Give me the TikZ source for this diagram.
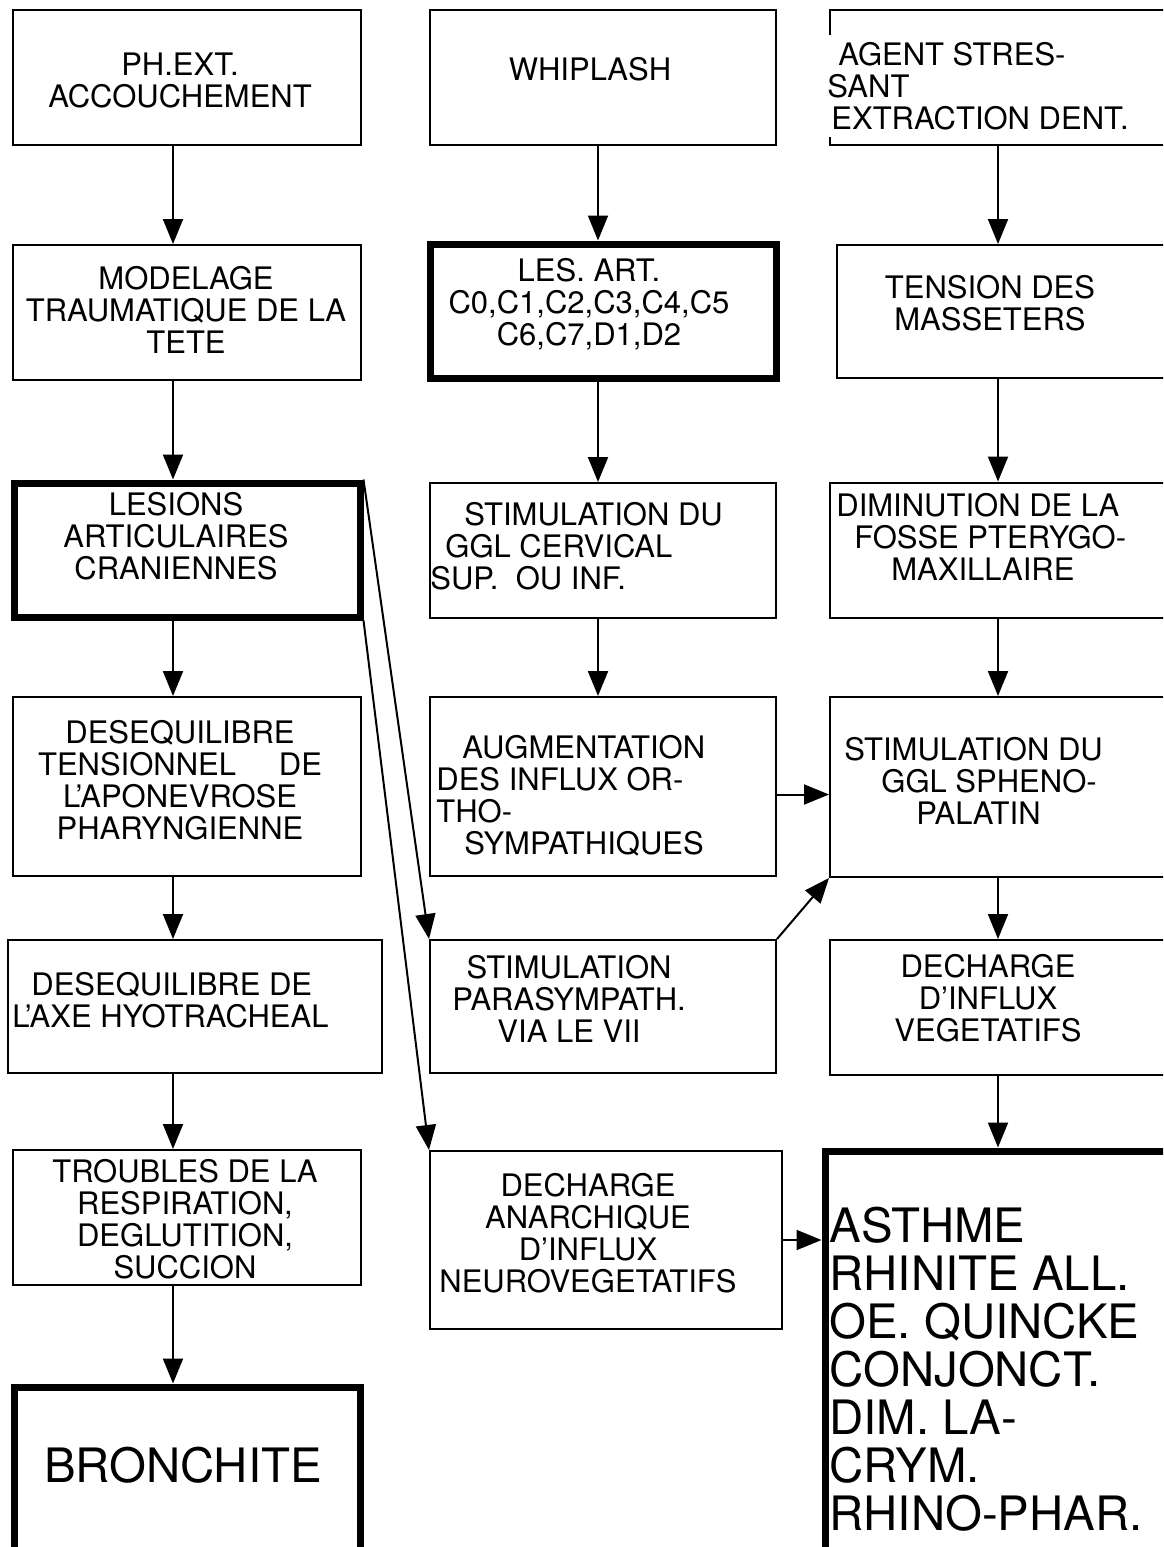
\documentclass[tikz,border=0pt]{standalone}
\usepackage{fontspec}
\setmainfont{TeX Gyre Heros}
\usetikzlibrary{arrows.meta}

\begin{document}
\begin{tikzpicture}[
  x=0.5pt, y=-0.5pt,
  box/.style={draw, line width=1pt, inner sep=0pt, minimum width=174pt, minimum height=67.5pt},
  heavy/.style={box, line width=3.5pt},
  txt/.style={inner sep=0pt, align=center, anchor=north, font=\fontsize{15.5pt}{16pt}\selectfont},
  ltxt/.style={txt, align=left, anchor=north west},
  big/.style={font=\fontsize{23.7pt}{24pt}\selectfont},
  arrow/.style={-{Triangle[length=12.5pt,width=10pt]}, line width=1pt}
]
\useasboundingbox (0,0) rectangle (1163,1547);
\clip (0,0) rectangle (1163,1547);
\fill[white] (0,0) rectangle (1163,1547);

% left column
\node[box] (l1) at (187,77.5) {};
\node[box] (l2) at (187,312.5) {};
\node[heavy, minimum width=173pt, minimum height=67pt] (l3) at (187,550) {};
\node[box, minimum height=89.5pt] (l4) at (187,786.5) {};
\node[box, minimum width=187pt, minimum height=66.5pt] (l5) at (195,1006.5) {};
\node[box] (l6) at (187,1217.5) {};
\node[heavy, minimum width=173pt, minimum height=106.5pt] (l7) at (187,1493.5) {};

\node[txt] (l1t) at (180,53) {PH.EXT.\\ACCOUCHEMENT};
\node[txt] (l2t) at (186,266) {MODELAGE\\TRAUMATIQUE DE LA\\TETE};
\node[txt] (l3t) at (176,492) {LESIONS\\ARTICULAIRES\\CRANIENNES};
\node[txt] (l4t) at (180,720) {DESEQUILIBRE\\TENSIONNEL\hspace{1.1em} DE\\L'APONEVROSE\\PHARYNGIENNE};
\node[ltxt] (l5t) at (12,972) {\hspace{9.5pt}DESEQUILIBRE DE\\L'AXE HYOTRACHEAL};
\node[txt] (l6t) at (185,1159) {TROUBLES DE LA\\RESPIRATION,\\DEGLUTITION,\\SUCCION};
\node[txt, big] (l7t) at (183,1447) {BRONCHITE};

% middle column
\node[box, minimum width=173pt] (m1) at (603,77.5) {};
\node[heavy, minimum width=173pt, minimum height=67pt] (m2) at (603,311) {};
\node[box, minimum width=173pt] (m3) at (603,550.5) {};
\node[box, minimum width=173pt, minimum height=89.5pt] (m4) at (603,786.5) {};
\node[box, minimum width=173pt, minimum height=66.5pt] (m5) at (603,1006.5) {};
\node[box, minimum width=176pt, minimum height=89pt] (m6) at (606,1240) {};

\node[txt] (m1t) at (590,57) {WHIPLASH};
\node[txt] (m2t) at (589,258) {LES. ART.\\C0,C1,C2,C3,C4,C5\\C6,C7,D1,D2};
\node[ltxt] (m3t) at (430,502) {\hspace{17pt}STIMULATION DU\\\hspace{7.5pt}GGL CERVICAL\\SUP.\ \ OU INF.};
\node[ltxt] (m4t) at (436,735) {\hspace{13pt}AUGMENTATION\\DES INFLUX OR-\\THO-\\\hspace{14pt}SYMPATHIQUES};
\node[txt] (m5t) at (569,955) {STIMULATION\\PARASYMPATH.\\VIA LE VII};
\node[txt] (m6t) at (588,1173) {DECHARGE\\ANARCHIQUE\\D'INFLUX\\NEUROVEGETATIFS};

% right column
\node[box, minimum width=168pt] (r1) at (998,77.5) {};
\node[box, minimum width=164.5pt, minimum height=66.5pt] (r2) at (1001.5,311.5) {};
\node[box, minimum width=168pt] (r3) at (998,550) {};
\node[box, minimum width=168pt, minimum height=90pt] (r4) at (998,787) {};
\node[box, minimum width=168pt] (r5) at (998,1007.5) {};
\node[heavy, minimum width=172.5pt, minimum height=224.5pt] (r6) at (997.5,1375.5) {};

\node[ltxt, fill=white, minimum height=51pt] (r1t) at (827,35) {\hspace{5.5pt}AGENT STRES-\\SANT\\\hspace{2pt}EXTRACTION DENT.};
\node[txt] (r2t) at (990,275) {TENSION DES\\MASSETERS};
\node[ltxt] (r3t) at (836,493) {DIMINUTION DE LA\\\hspace{9pt}FOSSE PTERYGO-\\\hspace{27.5pt}MAXILLAIRE};
\node[ltxt] (r4t) at (844,737) {STIMULATION DU\\\hspace{18.5pt}GGL SPHENO-\\\hspace{36pt}PALATIN};
\node[txt] (r5t) at (988,954) {DECHARGE\\D'INFLUX\\VEGETATIFS};
\node[ltxt, big] (r6t) at (829,1207) {ASTHME\\RHINITE ALL.\\OE. QUINCKE\\CONJONCT.\\DIM. LA-\\CRYM.\\RHINO-PHAR.};

\draw[arrow] ([xshift=-7pt]l1.south) -- ([xshift=-7pt]l2.north);
\draw[arrow] ([xshift=-7pt]l2.south) -- ([xshift=-7pt]l3.north);
\draw[arrow] ([xshift=-7pt]l3.south) -- ([xshift=-7pt]l4.north);
\draw[arrow] ([xshift=-7pt]l4.south) -- ([xshift=-7pt]l4.south |- l5.north);
\draw[arrow] ([xshift=-7pt]l6.north |- l5.south) -- ([xshift=-7pt]l6.north);
\draw[arrow] ([xshift=-7pt]l6.south) -- ([xshift=-7pt]l7.north);

\draw[arrow] ([xshift=-2.5pt]m1.south) -- ([xshift=-2.5pt]m2.north);
\draw[arrow] ([xshift=-2.5pt]m2.south) -- ([xshift=-2.5pt]m3.north);
\draw[arrow] ([xshift=-2.5pt]m3.south) -- ([xshift=-2.5pt]m4.north);

\draw[arrow] (r1.south) -- (r1.south |- r2.north);
\draw[arrow] (r3.north |- r2.south) -- (r3.north);
\draw[arrow] (r3.south) -- (r4.north);
\draw[arrow] (r4.south) -- (r5.north);
\draw[arrow] (r5.south) -- (r5.south |- r6.north);

\draw[arrow] ([yshift=-4pt]m4.east) -- ([yshift=-4pt]m4.east -| r4.west);
\draw[arrow] (m5.north east) -- (r4.south west);
\draw[arrow] (m6.east) -- (m6.east -| r6.west);
\draw[arrow] (l3.north east) -- (m5.north west);
\draw[arrow] (l3.south east) -- (m6.north west);
\end{tikzpicture}
\end{document}
